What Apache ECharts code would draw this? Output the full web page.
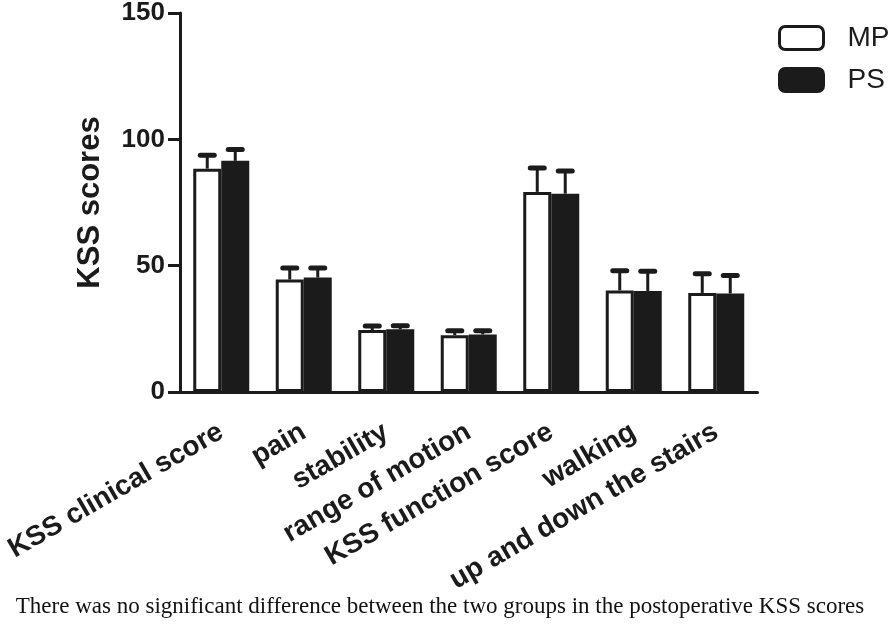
<!DOCTYPE html>
<html>
<head>
<meta charset="utf-8">
<script src="https://cdn.jsdelivr.net/npm/echarts@6/dist/echarts.min.js"></script>
<style>html,body{margin:0;padding:0;background:#fff;}#c{width:896px;height:630px;}</style>
</head>
<body>
<div id="c"></div>
<script>
var categories = ['KSS clinical score', 'pain', 'stability', 'range of motion', 'KSS function score', 'walking', 'up and down the stairs'];
var mpMean = [88.4, 44.5, 24.5, 22.5, 79.2, 40.2, 39.2];
var mpErr  = [5.3, 4.6, 1.6, 1.7, 9.5, 7.8, 7.6];
var psMean = [91.5, 45.3, 24.8, 22.8, 78.5, 40.0, 39.0];
var psErr  = [4.5, 3.8, 1.4, 1.4, 9.0, 7.8, 7.1];
var yTicks = [0, 50, 100, 150];
var seriesNames = ['MP', 'PS'];
var caption = 'There was no significant difference between the two groups in the postoperative KSS scores';

var SANS = "'Liberation Sans', Arial, Helvetica, sans-serif";
var INK = '#1b1b1b';
var BAR_W = 28;

function errorSeries(means, errs, offset) {
  return {
    type: 'custom',
    silent: true,
    z: 1,
    data: means.map(function (m, i) { return [i, m, m + errs[i]]; }),
    renderItem: function (params, api) {
      var base = api.coord([api.value(0), api.value(1)]);
      var top = api.coord([api.value(0), api.value(2)]);
      var x = base[0] + offset;
      return {
        type: 'group',
        children: [
          { type: 'line', shape: { x1: x, y1: base[1], x2: x, y2: top[1] },
            style: { stroke: INK, lineWidth: 3 } },
          { type: 'line', shape: { x1: x - 7, y1: top[1], x2: x + 7, y2: top[1] },
            style: { stroke: INK, lineWidth: 5, lineCap: 'round' } }
        ]
      };
    }
  };
}

var chart = echarts.init(document.getElementById('c'), null, { renderer: 'canvas' });
chart.setOption({
  animation: false,
  backgroundColor: '#ffffff',
  grid: { left: 180, right: 138.5, top: 12.7, bottom: 238, containLabel: false },
  legend: {
    orient: 'vertical',
    left: 778, top: 24,
    itemWidth: 44, itemHeight: 23,
    itemGap: 14,
    padding: 0,
    textStyle: { fontFamily: SANS, fontSize: 28, color: INK, padding: [0, 0, 0, 19] },
    data: [
      { name: 'MP', icon: 'roundRect', itemStyle: { color: '#ffffff', borderColor: INK, borderWidth: 3 } },
      { name: 'PS', icon: 'roundRect', itemStyle: { color: INK, borderColor: INK, borderWidth: 3 } }
    ]
  },
  xAxis: {
    type: 'category',
    data: categories,
    axisLine: { lineStyle: { color: INK, width: 3 } },
    axisTick: { alignWithLabel: true, length: 12, lineStyle: { color: INK, width: 3 } },
    axisLabel: { rotate: 30, interval: 0, margin: 38, fontFamily: SANS, fontWeight: 'bold', fontSize: 28, color: INK }
  },
  yAxis: {
    type: 'value',
    min: 0, max: 150, interval: 50,
    name: 'KSS scores',
    nameLocation: 'middle',
    nameGap: 74,
    nameTextStyle: { fontFamily: SANS, fontWeight: 'bold', fontSize: 31, color: INK },
    splitLine: { show: false },
    axisLine: { show: true, lineStyle: { color: INK, width: 3 } },
    axisTick: { show: true, length: 12, lineStyle: { color: INK, width: 3 } },
    axisLabel: { fontFamily: SANS, fontWeight: 'bold', fontSize: 26, color: INK, margin: 15,
      formatter: function (v) { return yTicks.indexOf(v) >= 0 ? String(v) : ''; } }
  },
  graphic: [{
    type: 'text', x: 440, y: 607,
    style: { text: caption, font: "23px 'Liberation Serif', 'Times New Roman', serif", fill: '#111',
      textAlign: 'center', textVerticalAlign: 'middle' }
  }],
  series: [
    { name: seriesNames[0], type: 'bar', data: mpMean, barWidth: BAR_W, barGap: '0%', z: 2,
      itemStyle: { color: '#ffffff', borderColor: INK, borderWidth: 3 } },
    { name: seriesNames[1], type: 'bar', data: psMean, barWidth: BAR_W, barGap: '0%', z: 2,
      itemStyle: { color: INK, borderColor: INK, borderWidth: 3 } },
    errorSeries(mpMean, mpErr, -BAR_W / 2),
    errorSeries(psMean, psErr, BAR_W / 2)
  ]
});
</script>
</body>
</html>
